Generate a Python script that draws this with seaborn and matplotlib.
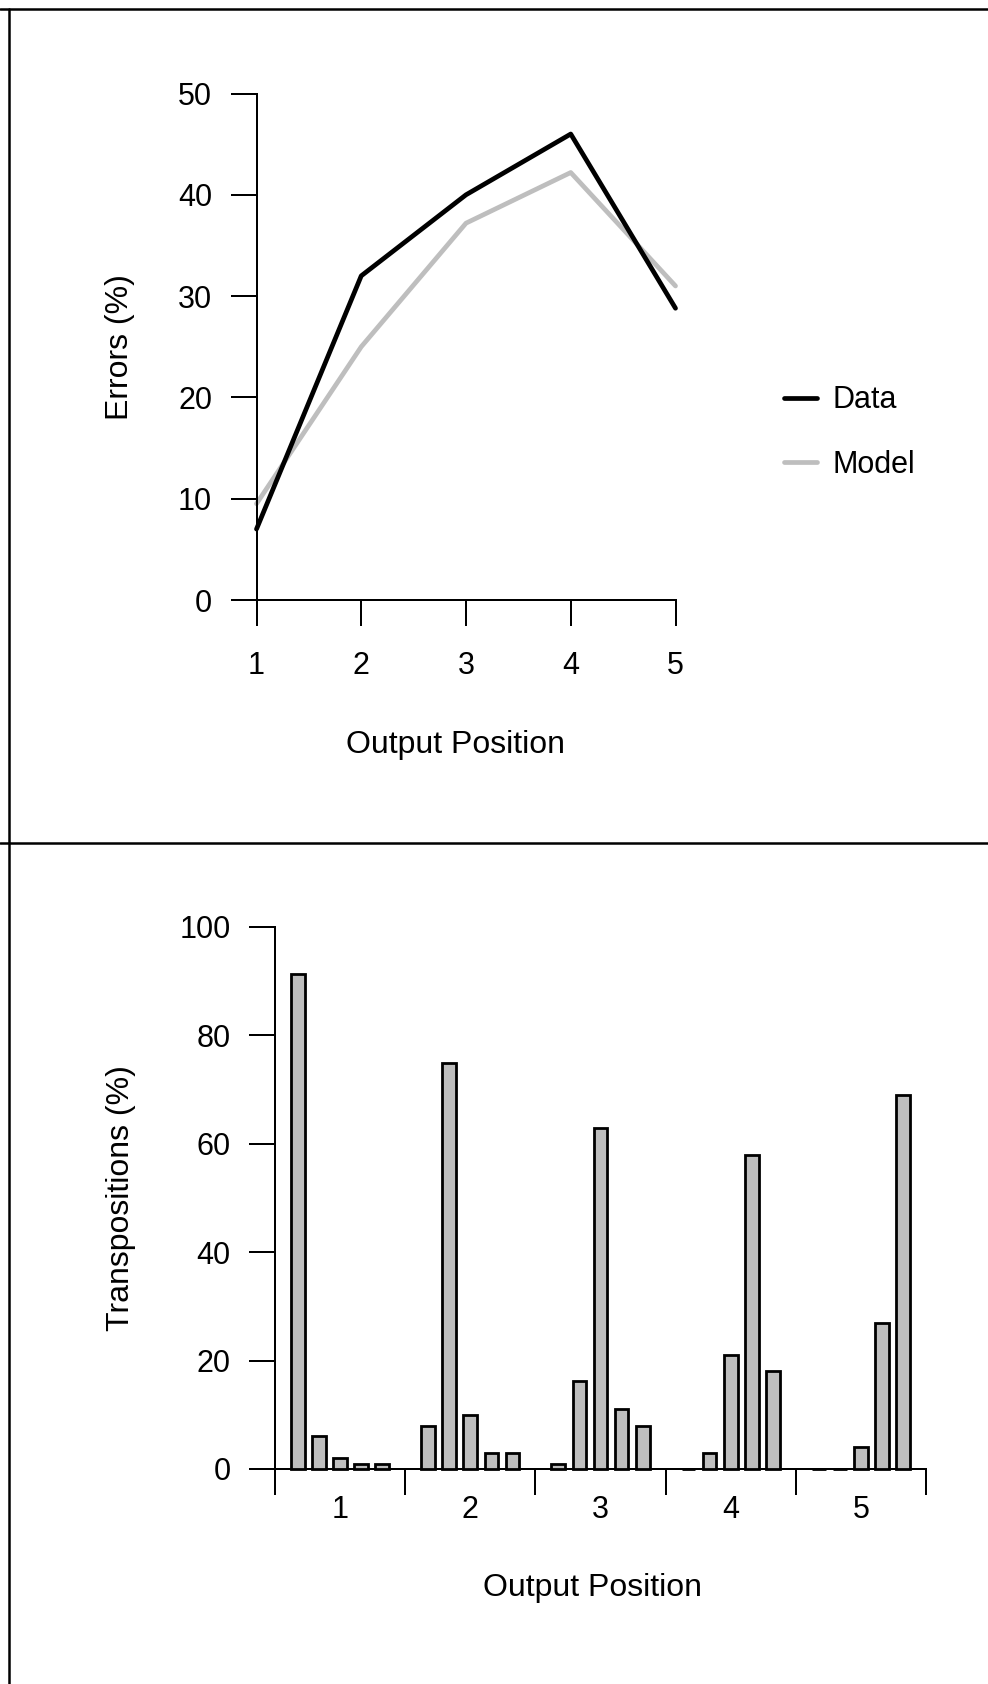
import numpy as np
import pandas as pd
import matplotlib
matplotlib.use("Agg")
import matplotlib.pyplot as plt
import seaborn as sns
from matplotlib.lines import Line2D

# ---------------- data ----------------
output_positions = [1, 2, 3, 4, 5]
data_errors = [7.0, 32.0, 40.0, 46.0, 28.8]
model_errors = [9.5, 25.0, 37.2, 42.2, 31.0]

# transpositions (%) for each output position, recalled item 1..5
trans_out1 = [91.4, 6, 2, 1, 1]
trans_out2 = [8, 75, 10, 3, 3]
trans_out3 = [1, 16.2, 63, 11, 8]
trans_out4 = [0, 3, 21, 58, 18]
trans_out5 = [0, 0, 4, 27, 69]
group_labels = ["1", "2", "3", "4", "5"]
item_labels = ["1", "2", "3", "4", "5"]

# ---------------- style ----------------
sns.set_style("ticks")
plt.rcParams["font.family"] = ["Liberation Sans", "DejaVu Sans"]
plt.rcParams["text.color"] = "black"
plt.rcParams["axes.labelcolor"] = "black"
plt.rcParams["xtick.color"] = "black"
plt.rcParams["ytick.color"] = "black"
GRAY = "#bebebe"
LW_AX = 1.44
TICK_FS = 22
LABEL_FS = 23

W, H = 988, 1684
fig = plt.figure(figsize=(W / 100, H / 100), dpi=100)

# ---------------- top panel ----------------
ax1 = fig.add_axes([256.5 / W, 1 - 600 / H, 419 / W, 506.5 / H])
df_line = pd.DataFrame({
    "pos": output_positions * 2,
    "err": data_errors + model_errors,
    "series": ["Data"] * 5 + ["Model"] * 5,
})
sns.lineplot(data=df_line[df_line.series == "Model"], x="pos", y="err",
             color=GRAY, linewidth=3.4, ax=ax1, zorder=2)
sns.lineplot(data=df_line[df_line.series == "Data"], x="pos", y="err",
             color="black", linewidth=3.4, ax=ax1, zorder=3)
for ln in ax1.lines:
    ln.set_clip_on(False)
ax1.set_xlim(1, 5)
ax1.set_ylim(0, 50)
ax1.set_xticks(output_positions)
ax1.set_xticklabels([str(p) for p in output_positions])
ax1.set_yticks([0, 10, 20, 30, 40, 50])
ax1.tick_params(axis="both", labelsize=TICK_FS, length=18.5, width=LW_AX,
                color="black", labelcolor="black")
ax1.tick_params(axis="x", pad=18)
ax1.tick_params(axis="y", pad=13.5)
sns.despine(ax=ax1)
for s in ("left", "bottom"):
    ax1.spines[s].set_linewidth(LW_AX)
    ax1.spines[s].set_color("black")
ax1.set_xlabel("Output Position", fontsize=LABEL_FS, va="center", color="black")
ax1.set_ylabel("Errors (%)", fontsize=LABEL_FS, va="center", color="black")
ax1.xaxis.set_label_coords(0.4754, -0.2863)
ax1.yaxis.set_label_coords(-0.326, 0.5)
handles = [Line2D([0], [0], color="black", lw=3.4), Line2D([0], [0], color=GRAY, lw=3.4)]
fig.legend(handles, ["Data", "Model"], loc="center left",
           bbox_to_anchor=(784 / W, 1 - 432.5 / H), frameon=False, fontsize=22,
           handlelength=1.08, handletextpad=0.52, labelspacing=1.13,
           borderpad=0, borderaxespad=0)

# ---------------- bottom panel ----------------
ax2 = fig.add_axes([275 / W, 1 - 1469 / H, 651 / W, 542 / H])
all_trans = [trans_out1, trans_out2, trans_out3, trans_out4, trans_out5]
rows = []
for g, vals in zip(group_labels, all_trans):
    for it, v in zip(item_labels, vals):
        rows.append({"output": g, "item": it, "pct": v})
df_bar = pd.DataFrame(rows)
sns.barplot(data=df_bar, x="output", y="pct", hue="item", order=group_labels,
            hue_order=item_labels, palette=[GRAY] * 5, edgecolor="black",
            linewidth=2, width=0.81, gap=0.35, errorbar=None, legend=False,
            saturation=1, ax=ax2)
for p in ax2.patches:
    p.set_clip_on(False)
    p.set_zorder(3)
ax2.set_xlim(-0.5, 4.5)
ax2.set_ylim(0, 100)
ax2.set_xticks(np.arange(-0.5, 5, 1.0))
ax2.set_xticklabels([""] * 6)
ax2.set_xticks(np.arange(0, 5), minor=True)
ax2.set_xticklabels(group_labels, minor=True)
ax2.set_yticks([0, 20, 40, 60, 80, 100])
ax2.tick_params(axis="both", which="major", labelsize=TICK_FS, length=18.5,
                width=LW_AX, color="black", labelcolor="black")
ax2.tick_params(axis="x", which="minor", length=0, pad=19, labelsize=TICK_FS,
                labelcolor="black")
ax2.tick_params(axis="y", pad=13.5)
sns.despine(ax=ax2)
for s in ("left", "bottom"):
    ax2.spines[s].set_linewidth(LW_AX)
    ax2.spines[s].set_color("black")
ax2.set_xlabel("Output Position", fontsize=LABEL_FS, va="center", color="black")
ax2.set_ylabel("Transpositions (%)", fontsize=LABEL_FS, va="center", color="black")
ax2.xaxis.set_label_coords(0.487, -0.2195)
ax2.yaxis.set_label_coords(-0.2365, 0.5)

# ---------------- panel frames ----------------
for ln in [Line2D([0, 1], [1 - 9 / H, 1 - 9 / H]),
           Line2D([9 / W, 9 / W], [0, 1 - 9 / H]),
           Line2D([0, 1], [1 - 843 / H, 1 - 843 / H])]:
    ln.set_color("black")
    ln.set_linewidth(1.8)
    fig.add_artist(ln)

fig.savefig("out.png", dpi=100, facecolor="white")
